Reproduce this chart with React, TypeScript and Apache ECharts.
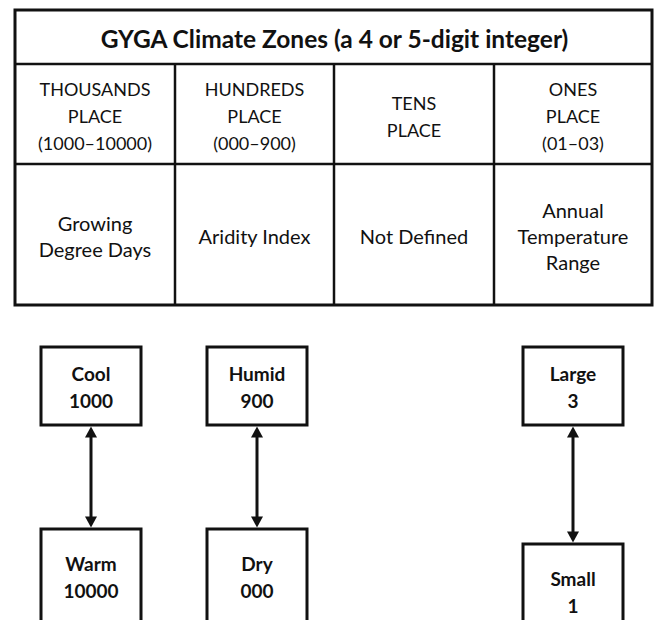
import React, { useEffect, useRef } from "react";
import * as echarts from "echarts";

const TITLE = "GYGA Climate Zones (a 4 or 5-digit integer)";
const HEADERS = [
  "THOUSANDS\nPLACE\n(1000–10000)",
  "HUNDREDS\nPLACE\n(000–900)",
  "TENS\nPLACE",
  "ONES\nPLACE\n(01–03)",
];
const MEANINGS = [
  "Growing\nDegree Days",
  "Aridity Index",
  "Not Defined",
  "Annual\nTemperature\nRange",
];
const TOP_BOXES = ["Cool\n1000", "Humid\n900", "Large\n3"];
const BOTTOM_BOXES = ["Warm\n10000", "Dry\n000", "Small\n1"];

const FONT = "Lato, 'Open Sans', sans-serif";

export default function App() {
  const ref = useRef<HTMLDivElement>(null);
  useEffect(() => {
    document.body.style.margin = "0";
    const chart = echarts.init(ref.current!, null, { renderer: "svg" });
    const black = "#111";
    const L = 15, R = 652, T = 10, B = 305;
    const yTitle = 64, yHead = 164;
    const cols = [L, 175, 334, 494, R];
    const els: any[] = [];
    els.push({ type: "rect", shape: { x: L, y: T, width: R - L, height: B - T }, style: { fill: "#fff", stroke: black, lineWidth: 3 } });
    els.push({ type: "line", shape: { x1: L, y1: yTitle, x2: R, y2: yTitle }, style: { stroke: black, lineWidth: 2.5 } });
    els.push({ type: "line", shape: { x1: L, y1: yHead, x2: R, y2: yHead }, style: { stroke: black, lineWidth: 2.5 } });
    for (let i = 1; i < 4; i++) {
      els.push({ type: "line", shape: { x1: cols[i], y1: yTitle, x2: cols[i], y2: B }, style: { stroke: black, lineWidth: 2.5 } });
    }
    els.push({ type: "text", x: (L + R) / 2 + 1, y: (T + yTitle) / 2 + 1, style: { text: TITLE, font: `bold 24.5px ${FONT}`, fill: black, align: "center", verticalAlign: "middle" } });
    HEADERS.forEach((h, i) => {
      const cx = (cols[i] + cols[i + 1]) / 2;
      els.push({ type: "text", x: cx, y: 116, style: { text: h, font: `18px ${FONT}`, lineHeight: 27, fill: black, align: "center", verticalAlign: "middle" } });
    });
    MEANINGS.forEach((h, i) => {
      const cx = (cols[i] + cols[i + 1]) / 2;
      els.push({ type: "text", x: cx, y: 236, style: { text: h, font: `20px ${FONT}`, lineHeight: 26, fill: black, align: "center", verticalAlign: "middle" } });
    });
    const boxX = [41, 207, 523];
    const topY = 347, topH = 78;
    const botY = [529, 529, 544];
    const bw = 100;
    TOP_BOXES.forEach((t, i) => {
      const x = boxX[i];
      els.push({ type: "rect", shape: { x, y: topY, width: bw, height: topH }, style: { fill: "#fff", stroke: black, lineWidth: 3 } });
      els.push({ type: "text", x: x + bw / 2, y: topY + topH / 2 + 1, style: { text: t, font: `bold 19px ${FONT}`, lineHeight: 27, fill: black, align: "center", verticalAlign: "middle" } });
      const by = botY[i];
      els.push({ type: "rect", shape: { x, y: by, width: bw, height: 120 }, style: { fill: "#fff", stroke: black, lineWidth: 3 } });
      els.push({ type: "text", x: x + bw / 2, y: by + 48, style: { text: BOTTOM_BOXES[i], font: `bold 19px ${FONT}`, lineHeight: 27, fill: black, align: "center", verticalAlign: "middle" } });
      const cx = x + bw / 2;
      const y1 = topY + topH + 1.5, y2 = by - 1.5;
      const ah = 11, aw = 6;
      els.push({ type: "line", shape: { x1: cx, y1: y1 + ah - 1, x2: cx, y2: y2 - ah + 1 }, style: { stroke: black, lineWidth: 3 } });
      els.push({ type: "polygon", shape: { points: [[cx, y1], [cx - aw, y1 + ah], [cx + aw, y1 + ah]] }, style: { fill: black } });
      els.push({ type: "polygon", shape: { points: [[cx, y2], [cx - aw, y2 - ah], [cx + aw, y2 - ah]] }, style: { fill: black } });
    });
    chart.setOption({ animation: false, graphic: { elements: els } });
    return () => chart.dispose();
  }, []);
  return <div ref={ref} style={{ width: 654, height: 620, background: "#fff" }} />;
}
